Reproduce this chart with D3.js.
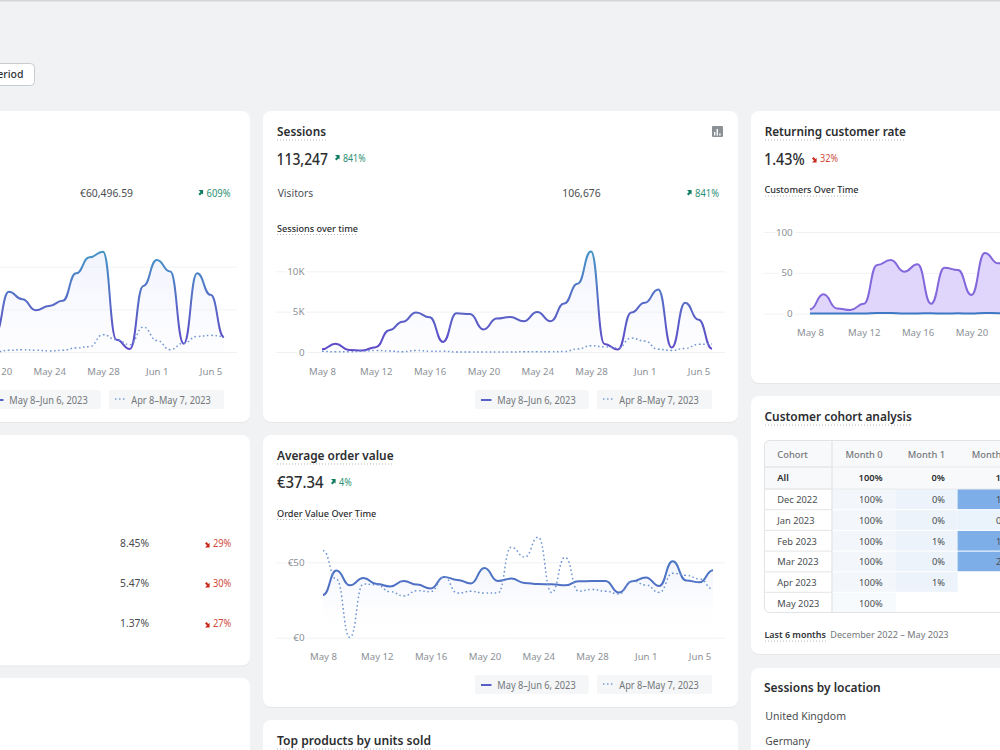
<!DOCTYPE html>
<html>
<head>
<meta charset="utf-8">
<script src="https://cdn.jsdelivr.net/npm/d3@7/dist/d3.min.js"></script>
<style>
html,body{margin:0;padding:0;background:#f1f2f4;overflow:hidden}
svg{display:block}
text{font-family:"Noto Sans","Open Sans",sans-serif}
</style>
</head>
<body>
<svg id="dash" width="1000" height="750"></svg>
<script>
// Daily figures for the current and the comparison period
const periodDays = ["May 8","May 9","May 10","May 11","May 12","May 13","May 14","May 15","May 16","May 17","May 18","May 19","May 20","May 21","May 22","May 23","May 24","May 25","May 26","May 27","May 28","May 29","May 30","May 31","Jun 1","Jun 2","Jun 3","Jun 4","Jun 5","Jun 6"];
const axisDays = ["May 8","May 12","May 16","May 20","May 24","May 28","Jun 1","Jun 5"];
const salesAxisDays = ["May 20","May 24","May 28","Jun 1","Jun 5"];

const salesDays = periodDays.slice(12);
const salesCurrent = [880,2820,2475,1960,2160,2400,3690,4440,4700,580,140,3100,4310,3770,390,3690,2680,700];
const salesPrevious = [0,80,110,80,50,80,190,250,810,580,340,1170,545,110,420,730,780,730];
const salesGrid = [0,2000,4000];

const sessionsCurrent = [330,1030,250,200,600,2700,3750,4900,4300,1250,4800,4700,2800,4150,4350,3800,4950,3800,6000,8450,12450,1000,300,4900,6100,7750,550,6100,4000,400];
const sessionsPrevious = [80,20,20,100,200,120,30,200,100,100,0,0,0,0,0,30,30,30,50,370,780,650,500,1730,1350,330,200,450,950,1000];
const sessionsGrid = [0,5000,10000];

const orderCurrent = [28.3,44.5,34.7,39.6,35.6,34,37.6,35.2,32.7,40.3,38.3,36,46.2,37.6,39.2,36.3,35.6,35.4,34.7,37.4,37.6,37.6,29.9,37.4,40,34.3,50.7,38,36.7,44.7];
const orderPrevious = [57.7,38.7,0.2,35.6,35,30.5,27.7,31.2,30.5,40.3,29.6,30.8,29.6,29.6,60,53.5,66.6,30,53.3,30.8,32,30.8,29,37.8,35,30,42.7,41.4,39,32.3];
const orderGrid = [0,50];

const customerDays = periodDays.slice(0,16);
const customersNew = [5.3,23.7,6.5,4.5,12.2,59.6,65.7,51.4,60.4,12.2,56.3,53.5,22.9,74.3,61.6,62];
const customersReturning = [0.3,0.3,0.3,0.2,0.2,1,0.9,0.2,0.2,0.6,0.1,0.5,0.1,1,0.7,0.5];
const customerGrid = [0,50,100];

const periodCurrent = "May 8–Jun 6, 2023";
const periodPrevious = "Apr 8–May 7, 2023";

const cohortHeader = ["Cohort","Month 0","Month 1","Month 2"];
const cohortRows = ["All","Dec 2022","Jan 2023","Feb 2023","Mar 2023","Apr 2023","May 2023"];
const cohortMonth0 = [100,100,100,100,100,100,100];
const cohortMonth1 = [0,0,0,1,0,1,null];
const cohortMonth2 = [1,1,0,1,2,null,null];

const conversionValues = ["8.45%","5.47%","1.37%"];
const conversionChanges = ["29%","30%","27%"];

const INK = "#2b2d2f", SUB = "#4a4d50", MUTED = "#8c9196", CHIP = "#73777b";
const UP = "#2a8f76", DOWN = "#cf4a3a", UP_ICON = "#0e7a5f", DOWN_ICON = "#c9281a";

const svg = d3.select("#dash");
const defs = svg.append("defs");
const parseDay = d3.utcParse("%b %e %Y");
const toDate = s => parseDay(s + " 2023");

function label(x, y, str, o = {}) {
  const t = svg.append("text").attr("x", x).attr("y", y)
    .attr("font-size", o.size || 11).attr("font-weight", o.weight || 400)
    .attr("fill", o.fill || SUB).attr("text-anchor", o.anchor || "start").text(str);
  if (o.w) t.attr("textLength", o.w).attr("lengthAdjust", "spacingAndGlyphs");
  return t;
}
function dotted(x1, x2, y) {
  svg.append("line").attr("x1", x1).attr("x2", x2).attr("y1", y).attr("y2", y)
    .attr("stroke", "#b5b8bc").attr("stroke-width", 1).attr("stroke-dasharray", "1 2");
}
function card(x, y, w, h) {
  svg.append("rect").attr("x", x).attr("y", y + 1).attr("width", w).attr("height", h).attr("rx", 8)
    .attr("fill", "#dfe1e4").attr("opacity", .75);
  svg.append("rect").attr("x", x).attr("y", y).attr("width", w).attr("height", h).attr("rx", 8).attr("fill", "#fff");
}
function delta(x, y, str, dir, w) {
  const c = dir > 0 ? UP_ICON : DOWN_ICON;
  const arrow = "M0 -4H4.6V.6L3.4 -.6 1.4 1.4 0 0 2 -2 1 -3Z";
  const tf = dir > 0 ? `translate(${x} ${y - 3})` : `translate(${x} ${y - 3.6}) scale(1 -1)`;
  svg.append("path").attr("d", arrow).attr("transform", tf).attr("fill", c);
  label(x + 8, y, str, {size: 10, fill: dir > 0 ? UP : DOWN, w});
}
function legendChips(dx, y) {
  const h = 19;
  [[475, 113.7], [597, 115]].forEach(([x, w]) =>
    svg.append("rect").attr("x", x + dx).attr("y", y).attr("width", w).attr("height", h).attr("rx", 2).attr("fill", "#f5f6f7"));
  svg.append("line").attr("x1", 481 + dx).attr("x2", 491.5 + dx).attr("y1", y + 10).attr("y2", y + 10)
    .attr("stroke", "#5a5fc8").attr("stroke-width", 2);
  svg.append("line").attr("x1", 603 + dx).attr("x2", 614 + dx).attr("y1", y + 9).attr("y2", y + 9)
    .attr("stroke", "#7a9cd6").attr("stroke-width", 1.5).attr("stroke-dasharray", "1.5 2.5");
  label(497.3 + dx, y + 13.5, periodCurrent, {size: 10, fill: CHIP, w: 78.4});
  label(619.3 + dx, y + 13.5, periodPrevious, {size: 10, fill: CHIP, w: 79.4});
}

// One time-series panel: grid, labels, optional filled area and lines
function timeChart(o) {
  const step = 13.45;
  const x = d3.scaleUtc().domain([toDate("May 8"), toDate("Jun 6")]).range([o.x0, o.x0 + step * 29]);
  const y = d3.scaleLinear().domain(o.domain).range([o.base, o.top]);
  const g = svg.append("g");

  const yAxis = d3.axisRight(y).tickValues(o.grid).tickSize(o.gridW).tickFormat(o.fmt);
  const ya = g.append("g").attr("transform", `translate(${o.gridX},0)`).call(yAxis);
  ya.select(".domain").remove();
  ya.selectAll("line").attr("stroke", "#f1f2f4");
  if (o.fmt === null) ya.selectAll("text").remove();
  ya.selectAll("text").attr("x", o.labelRight - o.gridX).attr("text-anchor", "end")
    .attr("font-size", 9.8).attr("font-family", null).attr("fill", MUTED)
    .attr("stroke", "#fff").attr("stroke-width", 5).attr("paint-order", "stroke");

  const xAxis = d3.axisBottom(x).tickValues((o.ticks || axisDays).map(toDate)).tickSize(0).tickPadding(0)
    .tickFormat(d3.utcFormat("%b %-d"));
  const xa = g.append("g").attr("transform", `translate(0,${o.axisY})`).call(xAxis);
  xa.select(".domain").remove();
  xa.selectAll("text").attr("font-size", 9.6).attr("font-family", null).attr("fill", MUTED).attr("dy", 0);

  o.layers.forEach(l => {
    const pts = l.values.map((v, i) => [x(toDate(l.days[i])), y(v)]);
    if (l.fill) {
      const area = d3.area().x(d => d[0]).y0(o.base).y1(d => d[1]).curve(d3.curveBumpX);
      g.append("path").attr("d", area(pts)).attr("fill", l.fill);
    }
    const line = d3.line().x(d => d[0]).y(d => d[1]).curve(d3.curveBumpX);
    g.append("path").attr("d", line(pts)).attr("fill", "none").attr("stroke", l.stroke)
      .attr("stroke-width", l.width || 2).attr("stroke-dasharray", l.dash || null)
      .attr("stroke-linejoin", "round");
  });
}
function gradient(id, y1, y2, stops) {
  const g = defs.append("linearGradient").attr("id", id).attr("gradientUnits", "userSpaceOnUse")
    .attr("x1", 0).attr("x2", 0).attr("y1", y1).attr("y2", y2);
  stops.forEach(([o, c, a]) => g.append("stop").attr("offset", o).attr("stop-color", c).attr("stop-opacity", a === undefined ? 1 : a));
  return `url(#${id})`;
}

// Page chrome
svg.append("rect").attr("width", 1000).attr("height", 750).attr("fill", "#f1f2f4");
svg.append("rect").attr("width", 1000).attr("height", 1.5).attr("fill", "#d3d5d8");
svg.append("rect").attr("x", -40).attr("y", 63.5).attr("width", 74.5).attr("height", 22).attr("rx", 4)
  .attr("fill", "#fff").attr("stroke", "#c9cccf");
label(23.5, 78, "Previous period", {size: 10.5, weight: 500, anchor: "end", fill: "#303336"});

// Card frames
card(-40, 111, 290, 311);
card(-40, 435, 290, 230.5);
card(-40, 678, 290, 100);
card(263, 111, 475, 311);
card(263, 435, 475, 272);
card(263, 720, 475, 60);
card(751, 111, 280, 272);
card(751, 396, 280, 258);
card(751, 668, 280, 100);

const lineMain = gradient("lineMain", 352, 250, [[0, "#5f48c8"], [.45, "#5868c6"], [1, "#4496c6"]]);
const fillMain = gradient("fillMain", 250, 352, [[0, "#e8ebfb", .6], [1, "#f3f4fd", .15]]);
const fillOrder = gradient("fillOrder", 560, 638, [[0, "#e6eafa", .6], [1, "#ffffff", 0]]);
const DOT = "#6f96d2", DASH = "1.6 2.6";

// Total sales panel, extends past the left edge
label(80, 197, "€60,496.59", {size: 11.5, w: 53});
delta(198.5, 197, "609%", 1, 24);
timeChart({x0: -166, base: 352, top: 266.7, domain: [0, 4000], grid: salesGrid, gridX: -212, gridW: 449,
  labelRight: -184, axisY: 374.5, fmt: null, ticks: salesAxisDays,
  layers: [
    {days: salesDays, values: salesCurrent, stroke: lineMain, fill: fillMain},
    {days: salesDays, values: salesPrevious, stroke: DOT, dash: DASH, width: 1.5}
  ]});
legendChips(-488, 390);

// Conversion rows
[547, 587, 627].forEach((y, i) => {
  label(120, y, conversionValues[i], {size: 11, w: 29});
  delta(205, y, conversionChanges[i], -1, 18.3);
});

// Sessions panel
label(277, 136, "Sessions", {size: 13, weight: 600, fill: INK, w: 49});
dotted(277, 326, 140);
label(276.5, 165, "113,247", {size: 17, weight: 500, fill: INK, w: 51.5});
delta(335, 162, "841%", 1, 22.5);
label(277.7, 197, "Visitors", {size: 11.5, w: 35.6});
label(562.3, 197, "106,676", {size: 11.5, w: 38.4});
delta(687, 197, "841%", 1, 24);
label(277, 231.5, "Sessions over time", {size: 9.5, weight: 500, fill: INK, w: 81});
dotted(277, 358, 234.5);
svg.append("rect").attr("x", 712).attr("y", 126).attr("width", 11).attr("height", 11).attr("rx", 1).attr("fill", "#8c9196");
[[714,132,1.4,3.5],[716.6,129,1.4,6.5],[719.2,133.5,1.4,2]].forEach(b =>
  svg.append("rect").attr("x", b[0]).attr("y", b[1]).attr("width", b[2]).attr("height", b[3]).attr("fill", "#fff"));
timeChart({x0: 322, base: 352, top: 271.3, domain: [0, 10000], grid: sessionsGrid, gridX: 276, gridW: 449,
  labelRight: 304.5, axisY: 374.5, fmt: d => d ? d / 1000 + "K" : "0",
  layers: [
    {days: periodDays, values: sessionsCurrent, stroke: lineMain, fill: fillMain},
    {days: periodDays, values: sessionsPrevious, stroke: DOT, dash: DASH, width: 1.5}
  ]});
legendChips(0, 390);

// Average order value panel
label(277, 460, "Average order value", {size: 13, weight: 600, fill: INK, w: 116.6});
dotted(277, 394, 464);
label(277, 488, "€37.34", {size: 17, weight: 500, fill: INK, w: 46.6});
delta(331, 486, "4%", 1, 12.7);
label(277, 516.5, "Order Value Over Time", {size: 9.5, weight: 500, fill: INK, w: 99.3});
dotted(277, 376, 519.5);
const lineOrder = gradient("lineOrder", 638, 560, [[0, "#5a5fc8"], [1, "#4a78c2"]]);
timeChart({x0: 323, base: 637.7, top: 562.3, domain: [0, 50], grid: orderGrid, gridX: 276, gridW: 449,
  labelRight: 304.5, axisY: 659.5, fmt: d => "€" + d,
  layers: [
    {days: periodDays, values: orderCurrent, stroke: lineOrder, fill: fillOrder},
    {days: periodDays, values: orderPrevious, stroke: DOT, dash: DASH, width: 1.5}
  ]});
legendChips(0, 675);

label(277, 745, "Top products by units sold", {size: 13, weight: 600, fill: INK, w: 154});
dotted(277, 431, 749);

// Returning customer panel
label(764.7, 136, "Returning customer rate", {size: 13, weight: 600, fill: INK, w: 141.3});
dotted(765, 906, 140);
label(764, 165, "1.43%", {size: 17, weight: 500, fill: INK, w: 40.7});
delta(812, 162, "32%", -1, 18);
label(764.5, 192.5, "Customers Over Time", {size: 9.5, weight: 500, fill: INK, w: 94});
dotted(765, 858, 196);
timeChart({x0: 810, base: 313.7, top: 232, domain: [0, 100], grid: customerGrid, gridX: 764, gridW: 260,
  labelRight: 792.7, axisY: 335.5, fmt: d => d,
  layers: [
    {days: customerDays, values: customersNew, stroke: "#8367dc", fill: "#e0d6fc"},
    {days: customerDays, values: customersReturning, stroke: "#3f78c4"}
  ]});

// Cohort table
label(764.5, 421, "Customer cohort analysis", {size: 13, weight: 600, fill: INK, w: 147.3});
dotted(765, 912, 425);

const rowTop = d3.scaleOrdinal().domain(cohortRows).range([467, 489, 509.7, 530.4, 551.1, 571.8, 592.3]);
const rowH = r => r === "All" ? 22 : 20.7;
const colX = {m0: [832.5, 895.8, 882.7], m1: [895.8, 957.6, 945], m2: [957.6, 1020, 1009]};
const shade = d3.scaleLinear().domain([0, 1]).range(["#eaf2fb", "#7eaee8"]);

const tableClip = defs.append("clipPath").attr("id", "tableClip");
tableClip.append("rect").attr("x", 764.5).attr("y", 440.5).attr("width", 300).attr("height", 172).attr("rx", 5);
const table = svg.append("g").attr("clip-path", "url(#tableClip)");
table.append("rect").attr("x", 764).attr("y", 440).attr("width", 300).attr("height", 49).attr("fill", "#f8f9fa");

function cell(r, col, value, bg) {
  const [x0, x1, tx] = colX[col];
  if (value === null) return;
  if (bg) table.append("rect").attr("x", x0).attr("y", rowTop(r)).attr("width", x1 - x0).attr("height", rowH(r)).attr("fill", bg);
  table.append("text").attr("x", tx).attr("y", rowTop(r) + 14.3).attr("text-anchor", "end").attr("font-size", 9.3)
    .attr("font-weight", r === "All" ? 600 : 400).attr("fill", r === "All" ? INK : SUB).text(value + "%");
}
cohortRows.forEach((r, i) => {
  const body = r !== "All";
  cell(r, "m0", cohortMonth0[i], body ? (r === "May 2023" ? "#f7fafd" : "#f3f7fc") : null);
  cell(r, "m1", cohortMonth1[i], body ? "#ecf3fb" : null);
  const m2 = cohortMonth2[i];
  cell(r, "m2", m2, body ? (m2 > 0 ? shade(1) : shade(0)) : null);
  table.append("text").attr("x", 777.3).attr("y", rowTop(r) + 14.3).attr("font-size", 9.3)
    .attr("font-weight", body ? 400 : 600).attr("fill", body ? SUB : INK).text(r);
  table.append("line").attr("x1", 764).attr("x2", 1020).attr("y1", rowTop(r)).attr("y2", rowTop(r))
    .attr("stroke", i < 2 ? "#e9eaec" : "#ffffff").attr("stroke-width", 1);
  table.append("line").attr("x1", 764).attr("x2", 832).attr("y1", rowTop(r)).attr("y2", rowTop(r))
    .attr("stroke", "#e4e5e7").attr("stroke-width", 1);
});
table.append("line").attr("x1", 832).attr("x2", 832).attr("y1", 440).attr("y2", 613).attr("stroke", "#e6e7e9").attr("stroke-width", 1.5);
cohortHeader.forEach((h, i) => {
  const tx = [777.3, 882.7, 945, 1009][i];
  table.append("text").attr("x", tx).attr("y", 457.5).attr("text-anchor", i ? "end" : "start")
    .attr("font-size", 9.3).attr("font-weight", 500).attr("fill", CHIP).text(h);
});
svg.append("rect").attr("x", 764.5).attr("y", 440.5).attr("width", 300).attr("height", 172).attr("rx", 5)
  .attr("fill", "none").attr("stroke", "#e1e3e5");

label(764.5, 637.5, "Last 6 months", {size: 9.5, weight: 600, fill: "#303336", w: 61.3});
dotted(765, 826, 641);
label(830.3, 637.5, "December 2022 – May 2023", {size: 9.5, fill: CHIP, w: 118.3});

// Location list
label(764, 692, "Sessions by location", {size: 13, weight: 600, fill: INK, w: 116.7});
label(765.3, 720, "United Kingdom", {size: 11.5, w: 80.7});
label(765.3, 745, "Germany", {size: 11.5, w: 44.7});
</script>
</body>
</html>
